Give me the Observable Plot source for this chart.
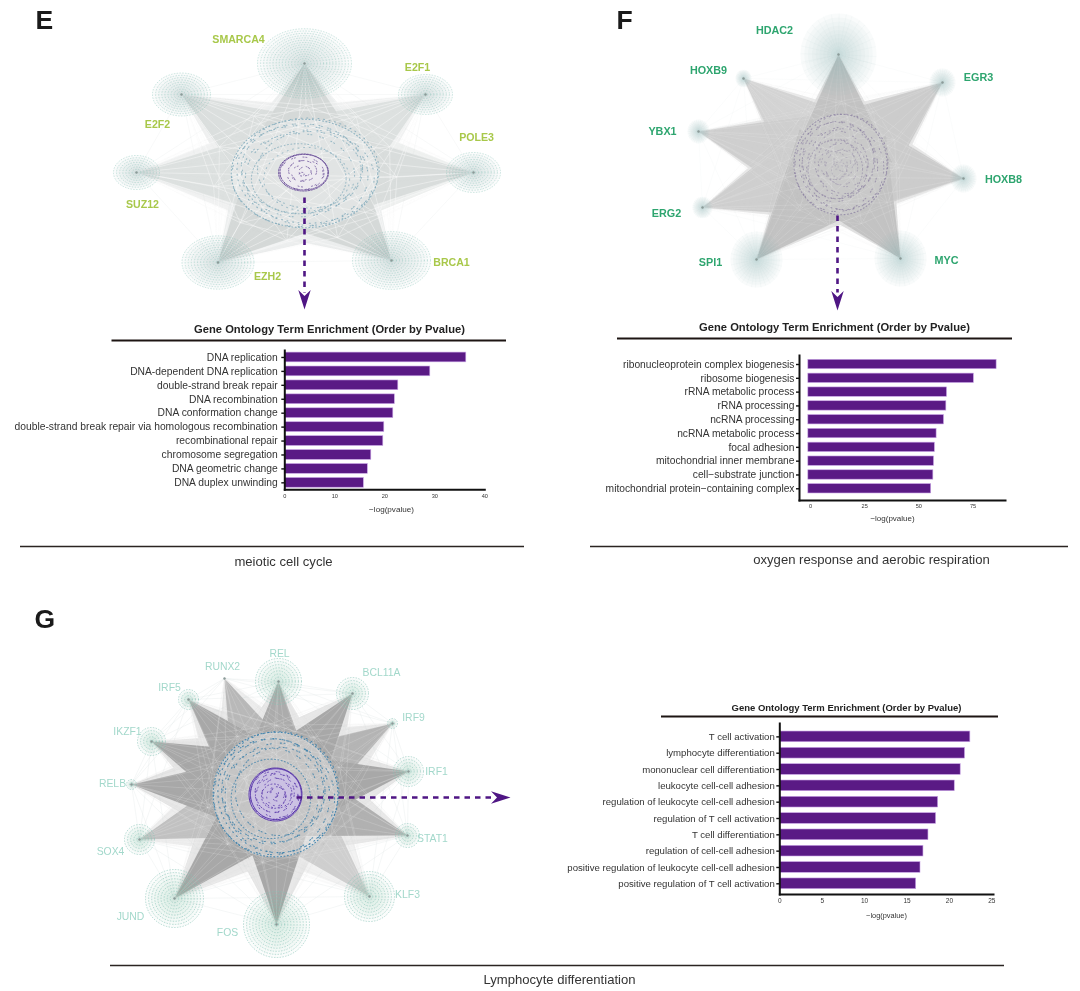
<!DOCTYPE html>
<html><head><meta charset="utf-8">
<script src="https://cdn.jsdelivr.net/npm/d3@7"></script>
<script src="https://cdn.jsdelivr.net/npm/@observablehq/plot@0.6"></script>
<style>
html,body{margin:0;padding:0;background:#fff;overflow:hidden}
#page{position:relative;width:1080px;height:991px;font-family:"Liberation Sans",Arial,sans-serif;isolation:isolate}
#page svg{position:absolute;filter:blur(.35px)}
</style></head><body><div id="page"></div>
<script>
// ---------- Enrichment bars ----------
const eTerms = ["DNA replication","DNA-dependent DNA replication","double-strand break repair","DNA recombination","DNA conformation change","double-strand break repair via homologous recombination","recombinational repair","chromosome segregation","DNA geometric change","DNA duplex unwinding"];
const eValues = [36.3,29.1,22.7,22.0,21.7,19.9,19.7,17.3,16.6,15.8];
const eTicks = [0,10,20,30,40];
const fTerms = ["ribonucleoprotein complex biogenesis","ribosome biogenesis","rRNA metabolic process","rRNA processing","ncRNA processing","ncRNA metabolic process","focal adhesion","mitochondrial inner membrane","cell−substrate junction","mitochondrial protein−containing complex"];
const fValues = [85.9,75.4,63.0,62.7,61.6,58.2,57.4,57.0,56.7,55.7];
const fTicks = [0,25,50,75];
const gTerms = ["T cell activation","lymphocyte differentiation","mononuclear cell differentiation","leukocyte cell-cell adhesion","regulation of leukocyte cell-cell adhesion","regulation of T cell activation","T cell differentiation","regulation of cell-cell adhesion","positive regulation of leukocyte cell-cell adhesion","positive regulation of T cell activation"];
const gValues = [22.47,21.84,21.33,20.63,18.67,18.43,17.53,16.94,16.59,16.08];
const gTicks = [0,5,10,15,20,25];

// ---------- Network hubs ----------
const eHubs = ["SMARCA4","E2F1","POLE3","BRCA1","EZH2","SUZ12","E2F2"];
const eHubX = [304,425,473,391,217.5,136,181];
const eHubY = [63,94,172,260,262,172,94];
const eHubSize = [47,27,27,39,36,23,29];
const eHubWeight = [1,.8,.9,1,1,.8,.85];
const eLabelX = [238,417,476,451,267,142,157];
const eLabelY = [39,67,137,262,276,204,124];

const fHubs = ["HDAC2","EGR3","HOXB8","MYC","SPI1","ERG2","YBX1","HOXB9"];
const fHubX = [838,942,963,900,756,702,698,743];
const fHubY = [54,82,178,258,259,207,131,78];
const fHubSize = [38,13,13,26,26,10,11,8];
const fHubWeight = [1,.85,.85,1,1,.8,.8,.72];
const fLabelX = [774,978,1003,946,710,666,662,708];
const fLabelY = [30,77,179,260,262,213,131,70];

const gHubs = ["REL","BCL11A","IRF9","IRF1","STAT1","KLF3","FOS","JUND","SOX4","RELB","IKZF1","IRF5","RUNX2"];
const gHubX = [278,352,392,408,407,369,276,174,139,131,151,188,224];
const gHubY = [681,693,723,771,835,896,924,898,839,784,741,699,678];
const gHubSize = [23,16,5,15,12,25,33,29,15,5,14,10,1];
const gHubWeight = [.95,1,.85,1,.9,.55,1,1,.7,1,1,1,.8];
const gLabelX = [279,381,413,436,432,407,227,130,110,112,127,169,222];
const gLabelY = [653,672,717,771,838,894,932,916,851,783,731,687,666];

// anchor nodes inside each central cluster, as fractions of its radius
const anchorAngles = [3,14,24,37,46,58,69,80,92,101,113,124,134,147,156,169,181,192,203,214,226,237,247,259,271,282,291,304,314,326,337,349];
const ringDashes = ["1 2.4","1 4.6","1 1.8 1 7.6","1 2.6 1 9","1 1.5 1 5.4","1 8 1 2.2","1 3.2 1 1.6 1 6"];
const ringShiftX = [0,1.6,-2.1,2.4,-1.2,-2.8,2.2,-2.6,1,3,-1.8,.6,-3.2,1.9,-.7,2.7,-2.3];
const ringShiftY = [0,-1.3,1.2,1.9,-2.2,.8,-1.7,2.4,2.6,-.6,-2.6,1.5,.4,-2.1,2.8,-1,1.1];

const networks = [
  {names:eHubs,X:eHubX,Y:eHubY,S:eHubSize,W:eHubWeight,LX:eLabelX,LY:eLabelY,
   aspect:.74,cx:304,cy:173,rx:74,inner:25,ix:303,iy:172,label:"#a8c84a",bold:true,labelSize:10.6,
   edge:"#d5d9d8",core:.98,flank:1.25,flankTone:.42,hair:.08,streak:.45,web:.3,veil:.3,leafDot:.55,leafHalo:.035,shift:2.2,
   outer:[.99,.96,.92,.87,.82,.76,.7,.64,.58],outerColor:"#7fa9ba",outerAlpha:.85,innerRings:[1,.96,.88,.72,.56,.4,.24,.1],innerColor:"#6a5099",innerFill:"#eeebf2",wide:"1.5 1.3"},
  {names:fHubs,X:fHubX,Y:fHubY,S:fHubSize,W:fHubWeight,LX:fLabelX,LY:fLabelY,
   aspect:1.08,cx:840,cy:164,rx:47,inner:0,ix:840,iy:164,label:"#2ea56f",bold:true,labelSize:10.8,
   edge:"#c3c3c3",core:1.12,flank:1.25,flankTone:.5,hair:.05,streak:.14,web:.15,veil:.1,leafDot:0,leafHalo:.05,shift:2,
   outer:[.99,.94,.88,.82,.76,.7,.64,.58,.52,.46,.4,.34,.28,.22,.16,.1,.05],outerColor:"#7a6c96",outerAlpha:.6,innerRings:[],innerColor:"#5f4596",innerFill:"none",wide:"2 1"},
  {names:gHubs,X:gHubX,Y:gHubY,S:gHubSize,W:gHubWeight,LX:gLabelX,LY:gLabelY,
   aspect:1,cx:275,cy:794,rx:63,inner:26.5,ix:275,iy:794,label:"#a3d8cb",bold:false,labelSize:10.4,
   edge:"#a8a8a8",core:.7,flank:1.1,flankTone:.28,hair:.05,streak:.18,web:.4,veil:.34,leafDot:.75,leafHalo:.03,shift:1.8,
   outer:[.99,.96,.92,.87,.82,.76,.7,.63],outerColor:"#3a80ab",outerAlpha:.92,innerRings:[1,.96,.9,.82,.74,.65,.56,.46,.36,.26,.16,.07],innerColor:"#5431a8",innerFill:"#cbbfe8",wide:"2.4 .7"}
];
const haloSteps = [1,.9,.8,.7,.6,.5,.4,.3,.2,.12];

// ---------- Free-standing text and rules ----------
const panelLetters = ["E","F","G"];
const panelLetterX = [35,616,34];
const panelLetterY = [20,20,619];
const chartTitles = ["Gene Ontology Term Enrichment (Order by Pvalue)","Gene Ontology Term Enrichment (Order by Pvalue)","Gene Ontology Term Enrichment (Order by Pvalue)"];
const titleX = [329,834,846];
const titleY = [329,327,707];
const titleSize = [11.2,11.2,9.5];
const ruleX1 = [111.5,617,661,20,590,110];
const ruleX2 = [506,1012,998,524,1068,1004];
const ruleY = [340,338,716,546,546,965];
const captions = ["meiotic cell cycle","oxygen response and aerobic respiration","Lymphocyte differentiation"];
const captionX = [283,871,559];
const captionY = [561,559,979];
const axisLabelX = [391,892,886];
const axisLabelY = [508.7,518,915];
const axisLabelSize = [8.1,8,7.4];
const arrowX1 = [304,837,296];
const arrowY1 = [197,215,797];
const arrowX2 = [304,837,492];
const arrowY2 = [292,292,797];
const arrowHeadX = [304,837,500];
const arrowHeadY = [299,300,797];
const arrowHeadTurn = [180,180,90];

const FONT = '"Liberation Sans",Arial,sans-serif';
const PURPLE = "#4f1684";
const rad = a => a*Math.PI/180;

function ellipse(a){
  const k = .5523;
  return {draw(c,size){
    const r = Math.sqrt(size/Math.PI), s = r*a;
    c.moveTo(r,0);
    c.bezierCurveTo(r,k*s,k*r,s,0,s);
    c.bezierCurveTo(-k*r,s,-r,k*s,-r,0);
    c.bezierCurveTo(-r,-k*s,-k*r,-s,0,-s);
    c.bezierCurveTo(k*r,-s,r,-k*s,r,0);
    c.closePath();
  }};
}
const stealth = {draw(c,size){
  const r = Math.sqrt(size/Math.PI);
  c.moveTo(0,-r); c.lineTo(.62*r,r*.95); c.lineTo(0,r*.35); c.lineTo(-.62*r,r*.95); c.closePath();
}};

function wedgePoints(h,n,reach){
  const dx=n.cx-h.x, dy=n.cy-h.y, d=Math.hypot(dx,dy), px=-dy/d, py=dx/d;
  const half=Math.hypot(n.rx*px,n.rx*n.aspect*py)*reach;
  return [{x:h.x,y:h.y},{x:n.cx+px*half,y:n.cy+py*half},{x:n.cx-px*half,y:n.cy-py*half}];
}

function networkMarks(n){
  const hubs = n.names.map((name,i)=>({name,x:n.X[i],y:n.Y[i],s:n.S[i],w:n.W[i],lx:n.LX[i],ly:n.LY[i]}));
  const sym = ellipse(n.aspect);
  const marks = [];
  const web = hubs.flatMap((h,i)=>[1,2,3].map(d=>{const t=hubs[(i+d)%hubs.length];return {x1:h.x,y1:h.y,x2:t.x,y2:t.y};}));
  marks.push(Plot.link(web,{x1:"x1",y1:"y1",x2:"x2",y2:"y2",stroke:"#d6dcdb",strokeOpacity:n.web,strokeWidth:.6}));
  for(const h of hubs){
    marks.push(Plot.line(wedgePoints(h,n,n.flank),{x:"x",y:"y",curve:"linear-closed",stroke:"none",
      fill:d3.interpolateRgb("#fff",n.edge)(n.flankTone*h.w),mixBlendMode:"darken"}));
  }
  for(const h of hubs){
    marks.push(Plot.line(wedgePoints(h,n,n.core),{x:"x",y:"y",curve:"linear-closed",stroke:"none",
      fill:d3.interpolateRgb("#fff",n.edge)(h.w),mixBlendMode:"darken"}));
  }
  for(const h of hubs){
    const e = anchorAngles.map(a=>({x1:h.x,y1:h.y,
      x2:n.cx+n.rx*n.flank*Math.cos(rad(a)),
      y2:n.cy+n.rx*n.aspect*n.flank*Math.sin(rad(a))}));
    marks.push(Plot.link(e,{x1:"x1",y1:"y1",x2:"x2",y2:"y2",stroke:n.edge,strokeOpacity:n.hair,strokeWidth:.7}));
    marks.push(Plot.link(e.filter((d,i)=>i%3===0),{x1:"x1",y1:"y1",x2:"x2",y2:"y2",stroke:"#fff",strokeOpacity:n.streak,strokeWidth:.9}));
  }
  const halos = hubs.flatMap(h=>haloSteps.map(f=>({x:h.x,y:h.y,r:h.s*f})));
  marks.push(Plot.dot(halos,{x:"x",y:"y",r:"r",symbol:sym,fill:"#8fb0aa",fillOpacity:n.leafHalo,stroke:"none"}));
  const spokes = hubs.filter(h=>h.s>4).flatMap(h=>anchorAngles.map(a=>({x1:h.x,y1:h.y,
    x2:h.x+h.s*Math.cos(rad(a)),
    y2:h.y+h.s*n.aspect*Math.sin(rad(a))})));
  marks.push(Plot.link(spokes,{x1:"x1",y1:"y1",x2:"x2",y2:"y2",stroke:"#9cc4bc",strokeOpacity:.13,strokeWidth:.5}));
  if(n.leafDot>0){
    const rings = hubs.flatMap(h=>d3.range(h.s,1.5,-3.1).map(r=>({x:h.x,y:h.y,r})));
    marks.push(Plot.dot(rings,{x:"x",y:"y",r:"r",symbol:sym,fill:"none",stroke:"#86c2b6",strokeOpacity:n.leafDot,strokeWidth:.75,strokeDasharray:"0.7 2.1",strokeLinecap:"round"}));
  }
  marks.push(Plot.dot([{x:n.cx,y:n.cy}],{x:"x",y:"y",r:n.rx,symbol:sym,fill:"#fff",fillOpacity:n.veil,stroke:"none"}));
  n.outer.forEach((f,i)=>{
    marks.push(Plot.dot([{x:n.cx+n.shift*ringShiftX[i],y:n.cy+n.shift*ringShiftY[i]}],{x:"x",y:"y",r:n.rx*f,symbol:sym,fill:"none",stroke:n.outerColor,
      strokeOpacity:n.outerAlpha-i*.025,strokeWidth:1.05,strokeDasharray:ringDashes[i%ringDashes.length],strokeLinecap:"round"}));
  });
  if(n.inner>0){
    marks.push(Plot.dot([{x:n.ix,y:n.iy}],{x:"x",y:"y",r:n.inner,symbol:sym,fill:n.innerFill,fillOpacity:.85,stroke:"none"}));
    n.innerRings.forEach((f,i)=>{
      const shift = i<2?.25:.7;
      marks.push(Plot.dot([{x:n.ix+shift*ringShiftX[i],y:n.iy+shift*ringShiftY[i]}],{x:"x",y:"y",r:n.inner*f,symbol:sym,fill:"none",stroke:n.innerColor,
        strokeOpacity:i<2?.95:.8,strokeWidth:1,strokeDasharray:i<2?n.wide:ringDashes[i%ringDashes.length],strokeLinecap:"round"}));
    });
  }
  marks.push(Plot.dot(hubs,{x:"x",y:"y",r:1.2,fill:"#8b9a98"}));
  marks.push(Plot.text(hubs,{x:"lx",y:"ly",text:"name",fill:n.label,fontSize:n.labelSize,fontWeight:n.bold?"bold":"normal",fontFamily:FONT}));
  return marks;
}

const idx = [0,1,2];
const overlay = Plot.plot({
  width:1080,height:991,margin:0,
  x:{domain:[0,1080],range:[0,1080],axis:null},
  y:{domain:[0,991],range:[0,991],axis:null},
  r:{type:"identity"},
  style:{background:"transparent",left:"0",top:"0"},
  marks:[
    ...networks.flatMap(networkMarks),
    ...idx.map(i=>Plot.link([i],{x1:arrowX1[i],y1:arrowY1[i],x2:arrowX2[i],y2:arrowY2[i],stroke:PURPLE,strokeWidth:2.6,strokeDasharray:"5.5 5"})),
    ...idx.map(i=>Plot.dot([i],{x:()=>arrowHeadX[i],y:()=>arrowHeadY[i],r:10,symbol:stealth,rotate:arrowHeadTurn[i],fill:PURPLE,stroke:"none"})),
    Plot.ruleY(ruleY.map((y,i)=>({y,a:ruleX1[i],b:ruleX2[i],w:i<3?2.2:1.4})).filter(d=>d.w>2),{y:"y",x1:"a",x2:"b",stroke:"#1d1513",strokeWidth:2.2}),
    Plot.ruleY(ruleY.map((y,i)=>({y,a:ruleX1[i],b:ruleX2[i],w:i<3?2.2:1.4})).filter(d=>d.w<2),{y:"y",x1:"a",x2:"b",stroke:"#2b2422",strokeWidth:1.4}),
    Plot.text(panelLetters,{x:(d,i)=>panelLetterX[i],y:(d,i)=>panelLetterY[i],text:d=>d,fontSize:26.5,fontWeight:"bold",fill:"#1a1a1a",textAnchor:"start",fontFamily:FONT}),
    ...idx.map(i=>Plot.text([chartTitles[i]],{x:()=>titleX[i],y:()=>titleY[i],text:d=>d,fontSize:titleSize[i],fontWeight:"bold",fill:"#222",fontFamily:FONT})),
    Plot.text(captions,{x:(d,i)=>captionX[i],y:(d,i)=>captionY[i],text:d=>d,fontSize:13.1,fill:"#333",fontFamily:FONT}),
    ...idx.map(i=>Plot.text(["−log(pvalue)"],{x:()=>axisLabelX[i],y:()=>axisLabelY[i],text:d=>d,fontSize:axisLabelSize[i],fill:"#333",fontFamily:FONT}))
  ]
});
document.getElementById("page").append(overlay);

function bars({terms,values,ticks,left,top,width,height,ml,mr,mt,mb,xDomain,pi,po,align,fontSize,tickFont,base,padding,spacing}){
  const rows = terms.map((term,i)=>({term,value:values[i]}));
  const svg = Plot.plot({
    width,height,marginLeft:ml,marginRight:mr,marginTop:mt,marginBottom:mb,
    x:{domain:xDomain,axis:null},
    y:{domain:terms,paddingInner:pi,paddingOuter:po,align,round:false,axis:null},
    style:{background:"transparent",left:left+"px",top:top+"px",overflow:"visible"},
    marks:[
      Plot.barX(rows,{x1:()=>base,x2:"value",y:"term",fill:"#5a1a85",stroke:"#c9a4e6",strokeWidth:.6}),
      Plot.frame({anchor:"left",stroke:"#111",strokeWidth:2}),
      Plot.frame({anchor:"bottom",stroke:"#111",strokeWidth:2}),
      Plot.axisY({label:null,tickSize:3,tickPadding:padding,fontSize,tickFormat:d=>d,stroke:"#111",fill:"#333",fontFamily:FONT,strokeWidth:1.4}),
      Plot.axisX({ticks,label:null,tickSize:0,tickPadding:4,fontSize:tickFont,fill:"#333",fontFamily:FONT,ariaLabel:"value ticks"})
    ]
  });
  svg.querySelectorAll('g[aria-label="value ticks"] text').forEach(t=>t.style.letterSpacing=spacing+"px");
  document.getElementById("page").append(svg);
}
bars({terms:eTerms,values:eValues,ticks:eTicks,left:0,top:345,width:540,height:180,ml:284.3,mr:55.7,mt:5,mb:35.7,xDomain:[0,40],pi:.3,po:.15,align:.5,fontSize:10.3,tickFont:5.6,base:0,padding:4,spacing:1});
bars({terms:fTerms,values:fValues,ticks:fTicks,left:560,top:350,width:520,height:180,ml:239,mr:75,mt:5,mb:30,xDomain:[-5.08,90],pi:.32,po:.41,align:.38,fontSize:10.25,tickFont:5.6,base:-1,padding:2,spacing:0});
bars({terms:gTerms,values:gValues,ticks:gTicks,left:540,top:718,width:540,height:205,ml:239.3,mr:87,mt:5,mb:29,xDomain:[0,25.2],pi:.345,po:.41,align:.6,fontSize:9.6,tickFont:6.5,base:0,padding:2,spacing:.5});
</script></body></html>
